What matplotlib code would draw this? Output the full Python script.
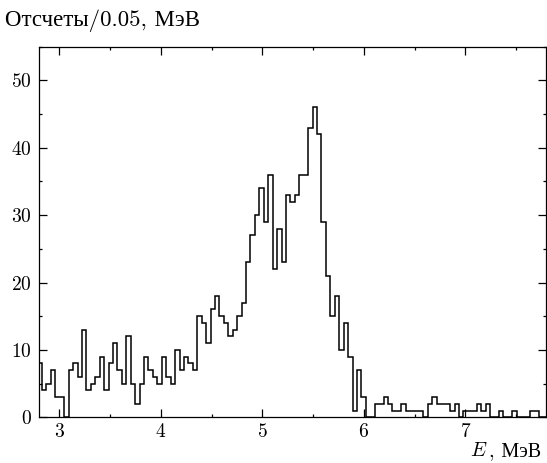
import numpy as np
import matplotlib
matplotlib.use("Agg")
import matplotlib.pyplot as plt
from matplotlib.ticker import MultipleLocator

plt.rcParams['mathtext.fontset'] = 'cm'
plt.rcParams['axes.formatter.use_mathtext'] = True

# Histogram data (counts per bin)
counts = [8,
          4, 5, 7, 3, 3, 0, 7, 8, 6, 13,
          4, 5, 6, 9, 4, 8, 11, 7, 5, 12,
          5, 2, 5, 9, 7, 6, 5, 9, 6, 5,
          10, 7, 9, 8, 7, 15, 14, 11, 16, 18,
          15, 14, 12, 13, 15, 17, 23, 27, 30, 34,
          29, 36, 22, 28, 23, 33, 32, 33, 36, 36,
          43, 46, 42, 29, 21, 15, 18, 10, 14, 9,
          1, 7, 3, 0, 0, 2, 2, 3, 2, 1,
          1, 2, 1, 1, 1, 1, 0, 2, 3, 2,
          2, 2, 1, 2, 0, 1, 1, 1, 2, 1,
          2, 0, 0, 1, 0, 0, 1, 0, 0, 0,
          1, 1, 0, 0]
first_edge = 2.786   # MeV
bin_width = 0.0437   # MeV
edges = first_edge + bin_width * np.arange(len(counts) + 1)

x_ticks = [3, 4, 5, 6, 7]
y_ticks = [0, 10, 20, 30, 40, 50]
ylabel = "Отсчеты/0.05, МэВ"
xlabel_rest = ", МэВ"

W, H = 547, 463
fig = plt.figure(figsize=(W / 100, H / 100), dpi=100)
ax = fig.add_axes([38.7 / W, 1 - 417.3 / H, (545.7 - 38.7) / W, (417.3 - 46.7) / H])

ax.stairs(counts, edges, color='black', lw=1.1, baseline=0)

ax.set_xlim(2.797, 7.792)
ax.set_ylim(0, 55)
ax.set_xticks(x_ticks)
ax.set_yticks(y_ticks)
ax.xaxis.set_minor_locator(MultipleLocator(0.5))
ax.yaxis.set_minor_locator(MultipleLocator(5))
ax.tick_params(which='both', direction='in', top=True, right=True,
               labeltop=False, labelright=False, width=0.9, color='black')
ax.tick_params(which='major', length=5.5, labelsize=14)
ax.tick_params(axis='y', which='major', pad=5)
ax.tick_params(axis='x', which='major', pad=4)
ax.tick_params(which='minor', length=2.5)
for sp in ax.spines.values():
    sp.set_linewidth(0.9)

serif = ['cmr10', 'Liberation Serif']
for lab in ax.get_xticklabels() + ax.get_yticklabels():
    lab.set_family(serif)

fig.text(5 / W, 1 - 21 / H, ylabel, family=serif, fontsize=16.5,
         ha='left', va='center')
rest = fig.text(541 / W, 1 - 456 / H, xlabel_rest, family=serif, fontsize=14.5,
                ha='right', va='baseline')
fig.canvas.draw()
bb = rest.get_window_extent()
fig.text((bb.x0 - 1) / W, 1 - 456 / H, r"$E$", fontsize=14.5, ha='right',
         va='baseline')

fig.savefig("out.png", dpi=100)
